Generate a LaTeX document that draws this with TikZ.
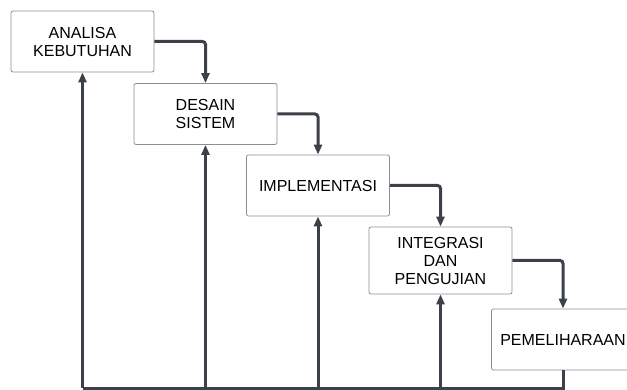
\documentclass[tikz,border=0pt]{standalone}
\usepackage{fontspec}
\setmainfont{Liberation Sans}
\usetikzlibrary{arrows.meta,positioning,calc}
\definecolor{linegray}{HTML}{3C4049}
\definecolor{boxgray}{HTML}{8A8F96}

\begin{document}
\begin{tikzpicture}[x=1pt,y=-1pt,
    phase/.style={draw=boxgray,line width=0.8pt,fill=white,rounded corners=2pt,
      minimum width=143pt,minimum height=61pt,align=center,inner sep=2pt,
      font=\fontsize{16}{18}\selectfont},
    flow/.style={draw=linegray,line width=3pt,rounded corners=3pt,
      -{Triangle[length=10pt,width=8pt]}}]
    \useasboundingbox (0,0) rectangle (627,390);
    \node [phase] (analisa) at (82.5,41.5) {ANALISA\\KEBUTUHAN};
    \node [phase] (desain) at (205.5,114) {DESAIN\\SISTEM};
    \node [phase] (implementasi) at (318,185.5) {IMPLEMENTASI};
    \node [phase,minimum height=67pt] (integrasi) at (440.5,260.5) {INTEGRASI\\DAN\\PENGUJIAN};
    \node [phase] (pemeliharaan) at (563,339.5) {PEMELIHARAAN};
    \coordinate (base) at (0,388);

    \draw [flow] (analisa.east) -| (desain.north);
    \draw [flow] (desain.east) -| (implementasi.north);
    \draw [flow] (implementasi.east) -| (integrasi.north);
    \draw [flow] (integrasi.east) -| (pemeliharaan.north);

    % umpan balik ke setiap tahap
    \draw [draw=linegray,line width=3pt] (pemeliharaan.south) |- (analisa.south |- base);
    \foreach \n in {analisa,desain,implementasi,integrasi}
      \draw [flow,rounded corners=0pt] (\n.south |- base) -- (\n.south);
  \end{tikzpicture}
\end{document}
